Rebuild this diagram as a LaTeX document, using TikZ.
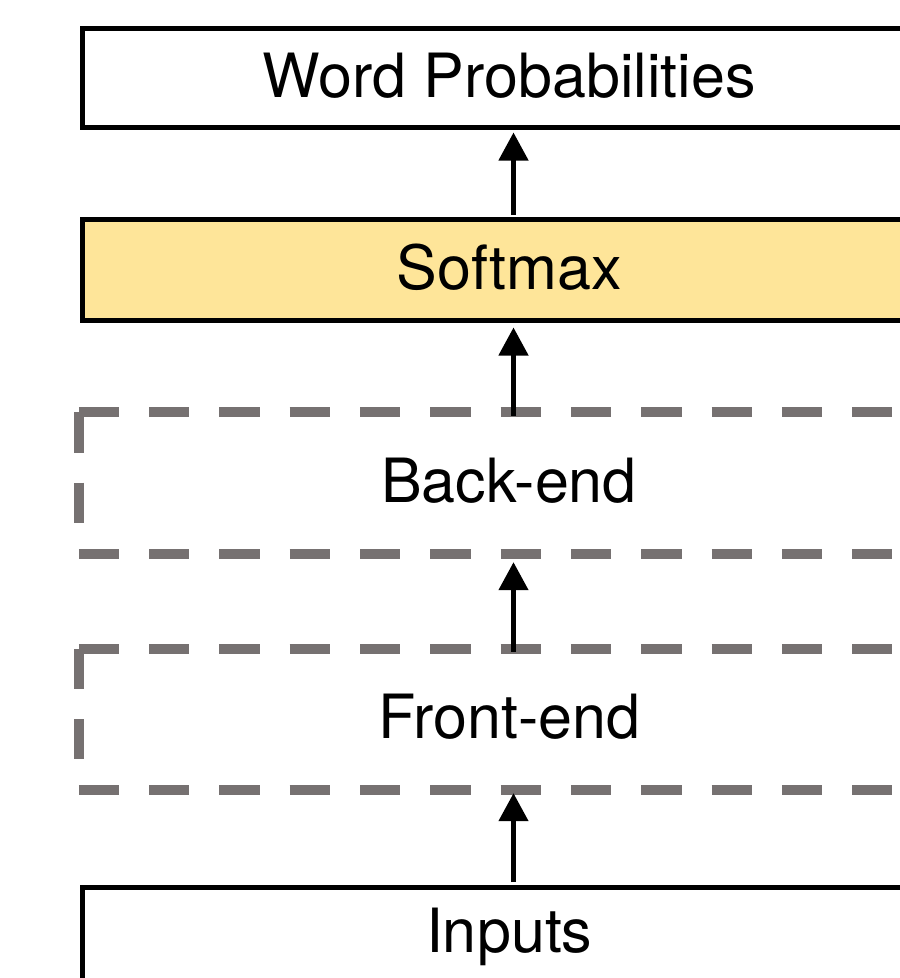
\documentclass[tikz,border=0pt]{standalone}
\usepackage{fontspec}
\setmainfont{TeX Gyre Heros}
\usetikzlibrary{arrows.meta,calc}
\definecolor{softfill}{RGB}{254,229,153}
\definecolor{dashgray}{RGB}{118,113,113}
\begin{document}
\begin{tikzpicture}[x=1pt,y=-1pt,
  boxtext/.style={inner sep=0pt, text height=44pt, text depth=6pt,
    font=\fontsize{61}{70}\selectfont},
  solidbox/.style={boxtext, rectangle, draw=black, line width=5pt,
    minimum width=853.5pt, minimum height=99pt},
  layerbox/.style={boxtext, rectangle, minimum width=860pt, minimum height=141pt},
  dashside/.style={draw=dashgray, line width=10pt, line cap=butt,
    dash pattern=on 40.3pt off 30pt},
  conn/.style={line width=4.6pt, -{Triangle[length=28pt,width=29pt]}}]
\useasboundingbox (0,0) rectangle (900,978);
\clip (0,0) rectangle (900,978);

% stacked layers
\node[solidbox] (wp) at (509.25,78) {Word Probabilities};
\node[solidbox, fill=softfill, minimum height=101pt] (sm) at (509.25,270) {Softmax};
\node[layerbox] (be) at (509,483) {Back-end};
\node[layerbox] (fe) at (509,719.5) {Front-end};
\node[solidbox, text depth=14pt] (in) at (509.25,937) {Inputs};

% dashed outlines, each side dashed from its own corner
\foreach \b in {be,fe}{
  \draw[dashside] (\b.north west) -- (\b.north east);
  \draw[dashside] (\b.south west) -- (\b.south east);
  \draw[dashside, shorten >=3pt] (\b.north west) -- (\b.south west);
  \draw[dashside, shorten >=3pt] (\b.north east) -- (\b.south east);
}

% vertical data flow
\coordinate (ax) at (513.5,0);
\draw[conn, shorten <=3pt, shorten >=3pt] (in.north -| ax) -- (fe.south -| ax);
\draw[conn, shorten <=-3pt, shorten >=8.5pt] (fe.north -| ax) -- (be.south -| ax);
\draw[conn, shorten <=-3.5pt, shorten >=4.5pt] (be.north -| ax) -- (sm.south -| ax);
\draw[conn, shorten <=2pt, shorten >=2.5pt] (sm.north -| ax) -- (wp.south -| ax);
\end{tikzpicture}
\end{document}
